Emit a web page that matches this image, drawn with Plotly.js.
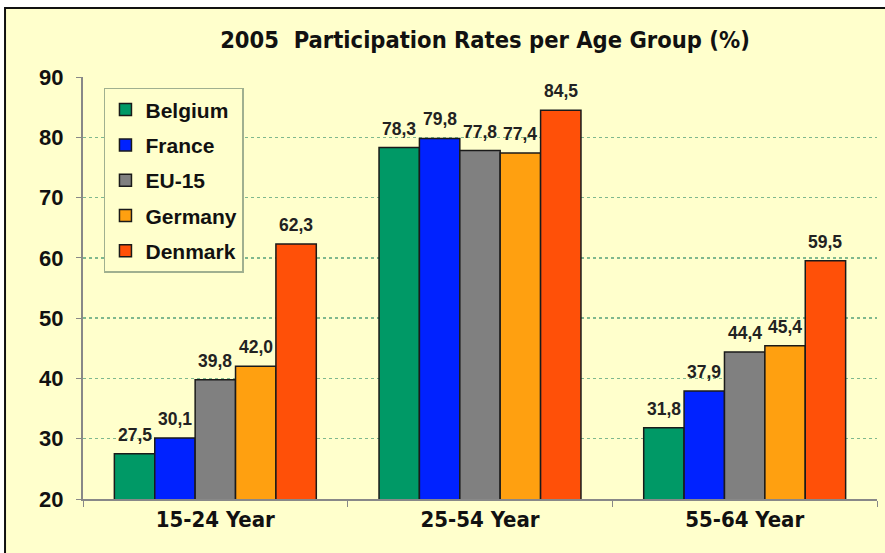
<!DOCTYPE html>
<html>
<head>
<meta charset="utf-8">
<script src="https://cdn.plot.ly/plotly-3.0.1.min.js"></script>
<style>
html,body{margin:0;padding:0;background:#ffffff;}
#chart{width:885px;height:553px;}
</style>
</head>
<body>
<div id="chart"></div>
<script>
const categories = ["15-24 Year", "25-54 Year", "55-64 Year"];
const seriesNames = ["Belgium", "France", "EU-15", "Germany", "Denmark"];
const belgium = [27.5, 78.3, 31.8];
const france = [30.1, 79.8, 37.9];
const eu15 = [39.8, 77.8, 44.4];
const germany = [42.0, 77.4, 45.4];
const denmark = [62.3, 84.5, 59.5];
const yTicks = [20, 30, 40, 50, 60, 70, 80, 90];

const seriesValues = [belgium, france, eu15, germany, denmark];
const colors = ["#009966", "#0022FF", "#808080", "#FFA010", "#FF5008"];
const narrow = "DejaVu Sans Condensed, Liberation Sans Narrow, Arial Narrow, Liberation Sans, sans-serif";
const bargap = 0.237;
const nSeries = seriesNames.length;
const barW = (1 - bargap) / nSeries;

const traces = seriesNames.map((name, i) => ({
  type: "bar",
  name: name,
  x: categories,
  y: seriesValues[i],
  legendgroup: "g" + i,
  marker: {color: colors[i], line: {color: "#1a1a1a", width: 1.5}},
  hoverinfo: "none"
}));

// value labels placed on the category axis via data coordinates
const annotations = [];
seriesValues.forEach((vals, i) => {
  vals.forEach((v, j) => {
    annotations.push({
      xref: "x", yref: "y",
      x: j + (i - (nSeries - 1) / 2) * barW,
      y: v,
      text: v.toFixed(1).replace(".", ","),
      showarrow: false,
      xanchor: "center", yanchor: "middle",
      yshift: 19,
      font: {family: "Liberation Sans, Arial, sans-serif", size: 17.5, color: "#222222", weight: "bold"}
    });
  });
});

const layout = {
  width: 885,
  height: 553,
  margin: {l: 83, r: 8, t: 77, b: 54},
  paper_bgcolor: "#ffffff",
  plot_bgcolor: "rgba(0,0,0,0)",
  barmode: "group",
  bargap: bargap,
  bargroupgap: 0,
  showlegend: true,
  title: {
    text: "2005  Participation Rates per Age Group (%)",
    x: 0.548, xanchor: "center",
    y: 0.928, yanchor: "middle",
    font: {family: narrow, size: 23.5, color: "#111111", weight: "bold"}
  },
  xaxis: {
    type: "category",
    range: [-0.5, 2.5],
    showgrid: false,
    showline: true,
    linecolor: "#888888",
    linewidth: 2,
    ticks: "outside",
    tickson: "boundaries",
    ticklen: 6,
    tickcolor: "#888888",
    tickfont: {family: narrow, size: 22, color: "#111111", weight: "bold"},
    automargin: false
  },
  yaxis: {
    range: [20, 90],
    tickvals: yTicks,
    ticktext: yTicks.map(v => String(v)),
    showgrid: true,
    gridcolor: "#7FB88E",
    griddash: "dot",
    gridwidth: 1.5,
    zeroline: false,
    showline: true,
    linecolor: "#888888",
    linewidth: 2,
    ticks: "outside",
    ticklen: 5,
    tickcolor: "#888888",
    ticklabelstandoff: 8,
    tickfont: {family: "Liberation Sans, Arial, sans-serif", size: 22, color: "#111111", weight: "bold"},
    automargin: false
  },
  legend: {
    x: 0.0264, xanchor: "left",
    y: 0.974, yanchor: "top",
    bgcolor: "#FFFFCC",
    bordercolor: "#A0B090",
    borderwidth: 1.5,
    tracegroupgap: 5,
    traceorder: "grouped",
    font: {family: "Liberation Sans, Arial, sans-serif", size: 21, color: "#111111", weight: "bold"}
  },
  annotations: annotations,
  shapes: [{
    type: "rect", xref: "paper", yref: "paper", layer: "below",
    x0: -0.0982, x1: 1.03, y0: -0.2, y1: 1.1635,
    fillcolor: "#FFFFCC",
    line: {color: "#111111", width: 2}
  }]
};

Plotly.newPlot("chart", traces, layout, {displayModeBar: false, staticPlot: true});
</script>
</body>
</html>
